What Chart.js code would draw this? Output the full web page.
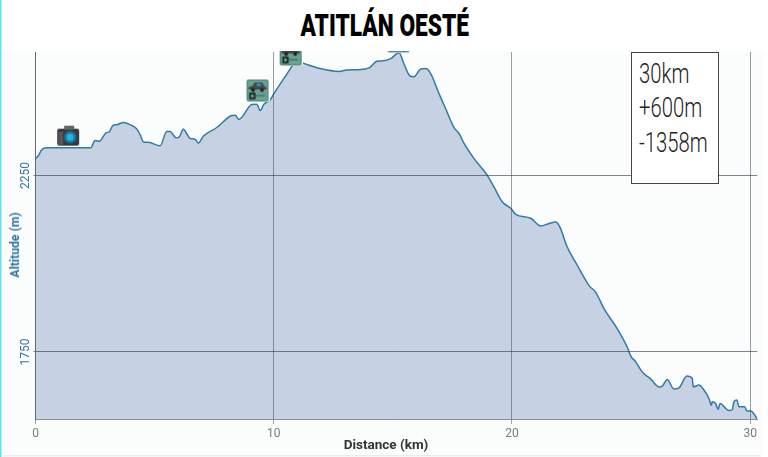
<!DOCTYPE html>
<html><head><meta charset="utf-8">
<script src="https://cdn.jsdelivr.net/npm/chart.js@4"></script>
<style>
html,body{margin:0;padding:0;background:#fff;width:768px;height:457px;overflow:hidden}
#wrap{position:relative;width:768px;height:457px}
#title{position:absolute;left:1.5px;top:0;width:766.5px;height:51px;background:#fff;text-align:center;}
#title span{display:inline-block;font:900 32px/51px Roboto,sans-serif;color:#000;transform:scaleX(.71);transform-origin:center;white-space:nowrap}
#stats{position:absolute;left:630.5px;top:52px;width:86px;height:130px;background:#fff;border:1.5px solid #444;
font:300 27px/34.5px Roboto,sans-serif;color:#222;}
#stats div{margin-left:7px;transform:scaleX(.75);transform-origin:left;white-space:nowrap}
#stats div:first-child{margin-top:3.5px}
.axt{position:absolute;font-family:Roboto,sans-serif;font-weight:700;white-space:nowrap;line-height:14px;transform:translate(-50%,-50%)}
#xt{left:386px;top:443.5px;font-size:13.5px;color:#333}
#yt{left:15px;top:245px;font-size:12.2px;color:#2e74a0;transform:translate(-50%,-50%) rotate(-90deg)}
</style></head><body>
<div id="wrap"><canvas id="c" width="768" height="457"></canvas>
<div id="title"><span id="tt"></span></div>
<div id="xt" class="axt"></div><div id="yt" class="axt"></div>
<div id="stats"><div>30km</div><div>+600m</div><div>-1358m</div></div></div>
<script>
const titleText = "ATITLÁN OESTÉ";
const xTitle = "Distance (km)";
const yTitle = "Altitude (m)";
const xTicks = [0, 10, 20, 30];
const yTicks = [1750, 2250];
const distances = [0,0.12,0.26,0.47,2.32,2.5,2.68,2.96,3.1,3.24,3.41,3.69,3.97,4.25,4.39,4.55,4.74,5.23,5.51,5.65,5.9,6.04,6.21,6.32,6.49,6.7,6.84,7.04,7.61,8.24,8.38,8.54,9.08,9.29,9.43,9.59,9.85,9.98,10.68,10.82,10.94,11.24,11.94,12.75,13.06,13.55,14.01,14.33,14.6,14.91,15.26,15.47,15.72,15.89,16.17,16.38,16.59,16.94,17.22,17.57,17.78,17.99,18.41,18.97,19.25,19.6,19.95,20.16,20.79,21.21,21.56,21.84,22.02,22.3,22.75,23.24,23.52,23.87,24.42,24.84,24.99,25.2,25.47,25.83,26.18,26.31,26.52,26.8,27.01,27.34,27.57,27.61,27.85,28.06,28.27,28.37,28.41,28.55,28.66,28.73,29.11,29.25,29.32,29.44,29.53,29.77,29.86,30.03,30.3];
const altitudes = [2298,2306,2323,2329,2329,2349,2347,2371,2374,2391,2394,2400,2394,2382,2366,2344,2344,2334,2375,2375,2357,2360,2382,2372,2355,2353,2342,2361,2386,2420,2421,2409,2451,2452,2434,2452,2464,2479,2551,2566,2575,2568,2553,2545,2549,2550,2555,2574,2575,2581,2598,2566,2532,2530,2552,2553,2539,2482,2439,2386,2369,2341,2298,2250,2217,2175,2157,2140,2129,2107,2114,2118,2103,2051,1995,1938,1919,1872,1816,1764,1738,1722,1693,1673,1651,1653,1672,1645,1648,1682,1675,1651,1656,1642,1618,1599,1609,1604,1587,1604,1584,1587,1609,1614,1595,1595,1583,1583,1560];
const iconKinds = ["camera","car","car","car"];
const iconDistances = [1.37,9.32,10.71,15.24];
const iconAltitudes = [2363,2491,2593,2630];

document.getElementById('tt').textContent = titleText;
document.getElementById('xt').textContent = xTitle;
document.getElementById('yt').textContent = yTitle;

function tile(size,draw){const k=document.createElement('canvas');k.width=k.height=size;draw(k.getContext('2d'));return k;}
function roundBox(g,x,y,w,h,r){g.beginPath();g.roundRect(x,y,w,h,r);}
const carIcon = tile(24,g=>{
  g.fillStyle='#fff';roundBox(g,0,0,24,24,3);g.fill();
  g.fillStyle='#64a394';roundBox(g,1,1,22,22,2);g.fill();
  g.strokeStyle='#4a8073';g.lineWidth=1;roundBox(g,1.5,1.5,21,21,2);g.stroke();
  g.fillStyle='#4a4548';g.beginPath();g.moveTo(3,11);g.lineTo(3,8.5);g.lineTo(7,7.5);g.lineTo(9,4);g.lineTo(17,4);g.lineTo(19,8);g.lineTo(21,9);g.lineTo(21,11);g.closePath();g.fill();
  g.fillStyle='#2a93c9';g.fillRect(11,5,4.5,2.6);
  g.fillStyle='#222';g.beginPath();g.arc(7.5,11.5,1.9,0,7);g.arc(16.5,11.5,1.9,0,7);g.fill();
  g.strokeStyle='#111';g.lineWidth=1.5;g.strokeRect(4.5,15,4.5,5);
  g.fillStyle='#4f6f68';g.fillRect(10,16.5,9.5,1.5);
});
const cameraIcon = tile(24,g=>{
  g.fillStyle='#3a3a3e';roundBox(g,1,5,22,17,2);g.fill();
  g.fillStyle='#66666a';g.fillRect(8,2,10,4);g.fillStyle='#55555a';g.fillRect(2,8,5,13);
  g.fillStyle='#0d7ea8';g.beginPath();g.arc(14,13.5,6,0,7);g.fill();
  g.fillStyle='#26b3dc';g.beginPath();g.arc(14,13.5,3.5,0,7);g.fill();
});
const iconStyles = iconKinds.map(k=>k==='camera'?cameraIcon:carIcon);

const pageBack = {id:'pageBack',beforeDraw(ch){const g=ch.ctx;g.save();
  g.fillStyle='#fbfdfd';g.fillRect(2,51,761,403);
  g.fillStyle='#e9ecec';g.fillRect(3,455,758,1.5);
  g.fillStyle='#6fd6fb';g.fillRect(0,0,1.5,457);
  g.restore();}};
const widenArea = {id:'widenArea',afterLayout(ch){
  const s=ch.scales.x,r=757.3;
  ch.chartArea.right=r;ch.chartArea.width=r-ch.chartArea.left;
  s.right=r;s.width=r-s.left;s.configure();
}};

const bluish='#2e74a0';
new Chart(document.getElementById('c'),{
  type:'line',
  data:{datasets:[
    {data:iconDistances.map((d,i)=>({x:d,y:iconAltitudes[i]})),showLine:false,pointStyle:iconStyles,pointRadius:12,pointHoverRadius:12,order:0,clip:false},
    {data:distances.map((d,i)=>({x:d,y:altitudes[i]})),borderColor:'#2f7aa6',borderWidth:1.5,backgroundColor:'#c6d2e3',fill:'start',pointRadius:0,cubicInterpolationMode:'monotone',order:1}
  ]},
  options:{
    responsive:false,animation:false,
    layout:{padding:{left:0,right:10.7,top:52,bottom:0}},
    plugins:{legend:{display:false},tooltip:{enabled:false},title:{display:false}},
    scales:{
      x:{type:'linear',min:0,max:30.3,
        afterBuildTicks(s){s.ticks=xTicks.map(v=>({value:v}));},
        afterFit(s){s.height=38;},
        ticks:{color:'#7a7a7a',font:{family:'Roboto',size:12},maxRotation:0,padding:3,callback:v=>String(v)},
        border:{color:'rgba(60,70,80,.6)',z:2},
        grid:{color:'rgba(50,65,80,.5)',lineWidth:1,z:1,tickLength:5}},
      y:{type:'linear',min:1560,max:2600,
        afterBuildTicks(s){s.ticks=yTicks.map(v=>({value:v}));},
        afterFit(s){s.width=35.5;},
        ticks:{color:bluish,font:{family:'Roboto',size:12},minRotation:90,maxRotation:90,padding:-6,crossAlign:'center',callback:v=>String(v)},
        border:{color:'rgba(60,70,80,.6)',z:2},
        grid:{color:'rgba(40,55,70,.6)',lineWidth:1,z:1,tickLength:2}}
    }
  },
  plugins:[pageBack,widenArea]
});
</script></body></html>
